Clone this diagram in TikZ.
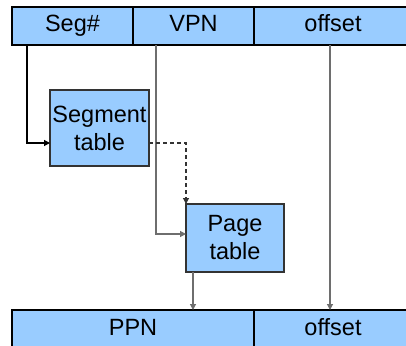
\documentclass[tikz,border=0pt]{standalone}
\usepackage{fontspec}
\setmainfont{Liberation Sans}
\usepackage{tikz}
\usetikzlibrary{positioning,arrows.meta}

\definecolor{fieldblue}{HTML}{99CCFF}
\definecolor{wiregray}{HTML}{6E6E6E}

\begin{document}
\begin{tikzpicture}[
		x=1pt, y=-1pt,
		node distance=0pt,
		field/.style={
			draw,
			fill=fieldblue,
			line width=1.1pt,
			outer sep=0pt,
			minimum height=38pt,
			inner sep=0pt,
			text height=17pt,
			text depth=5pt,
			font=\fontsize{23.5}{28}\selectfont
		},
		tablebox/.style={
			draw=black!80,
			fill=fieldblue,
			line width=1.1pt,
			outer sep=0pt,
			inner sep=0pt,
			align=center,
			font=\fontsize{23.5}{28}\selectfont
		},
		arrow/.style={-{Triangle[length=6pt,width=6pt]}, line width=1.2pt},
		wire/.style={arrow, draw=wiregray}
	]
		\useasboundingbox (0,0) rectangle (406,345);
		\clip (0,0) rectangle (406,345);

		% virtual address
		\node[field, minimum width=121pt, anchor=north west] (seg) at (12,7) {Seg\#};
		\node[field, minimum width=121pt, right=of seg] (vpn) {VPN};
		\node[field, minimum width=158pt, right=of vpn] (offset) {offset};

		% tables
		\node[tablebox, minimum width=99pt, minimum height=76pt] (segtable) at (99.5,128) {Segment\\table};
		\node[tablebox, minimum width=98pt, minimum height=68pt] (pagetable) at (235,238) {Page\\table};

		% physical address
		\node[field, minimum width=242pt, anchor=north west] (ppn) at (12,310) {PPN};
		\node[field, minimum width=158pt, right=of ppn] (poffset) {offset};

		\draw[arrow] ([xshift=15pt]seg.south west) |- ([yshift=-15pt]segtable.west);
		\draw[wire] ([xshift=23pt]vpn.south west) |- ([yshift=4pt]pagetable.west);
		\draw[arrow, dash pattern=on 4pt off 3pt, draw=black!80] ([yshift=-15pt]segtable.east) -| (pagetable.north west);
		\draw[wire] ([xshift=7pt]pagetable.south west) -- ([xshift=7pt]pagetable.south west |- ppn.north);
		\draw[wire] ([xshift=76pt]offset.south west) -- ([xshift=76pt]offset.south west |- poffset.north);
	\end{tikzpicture}
\end{document}
